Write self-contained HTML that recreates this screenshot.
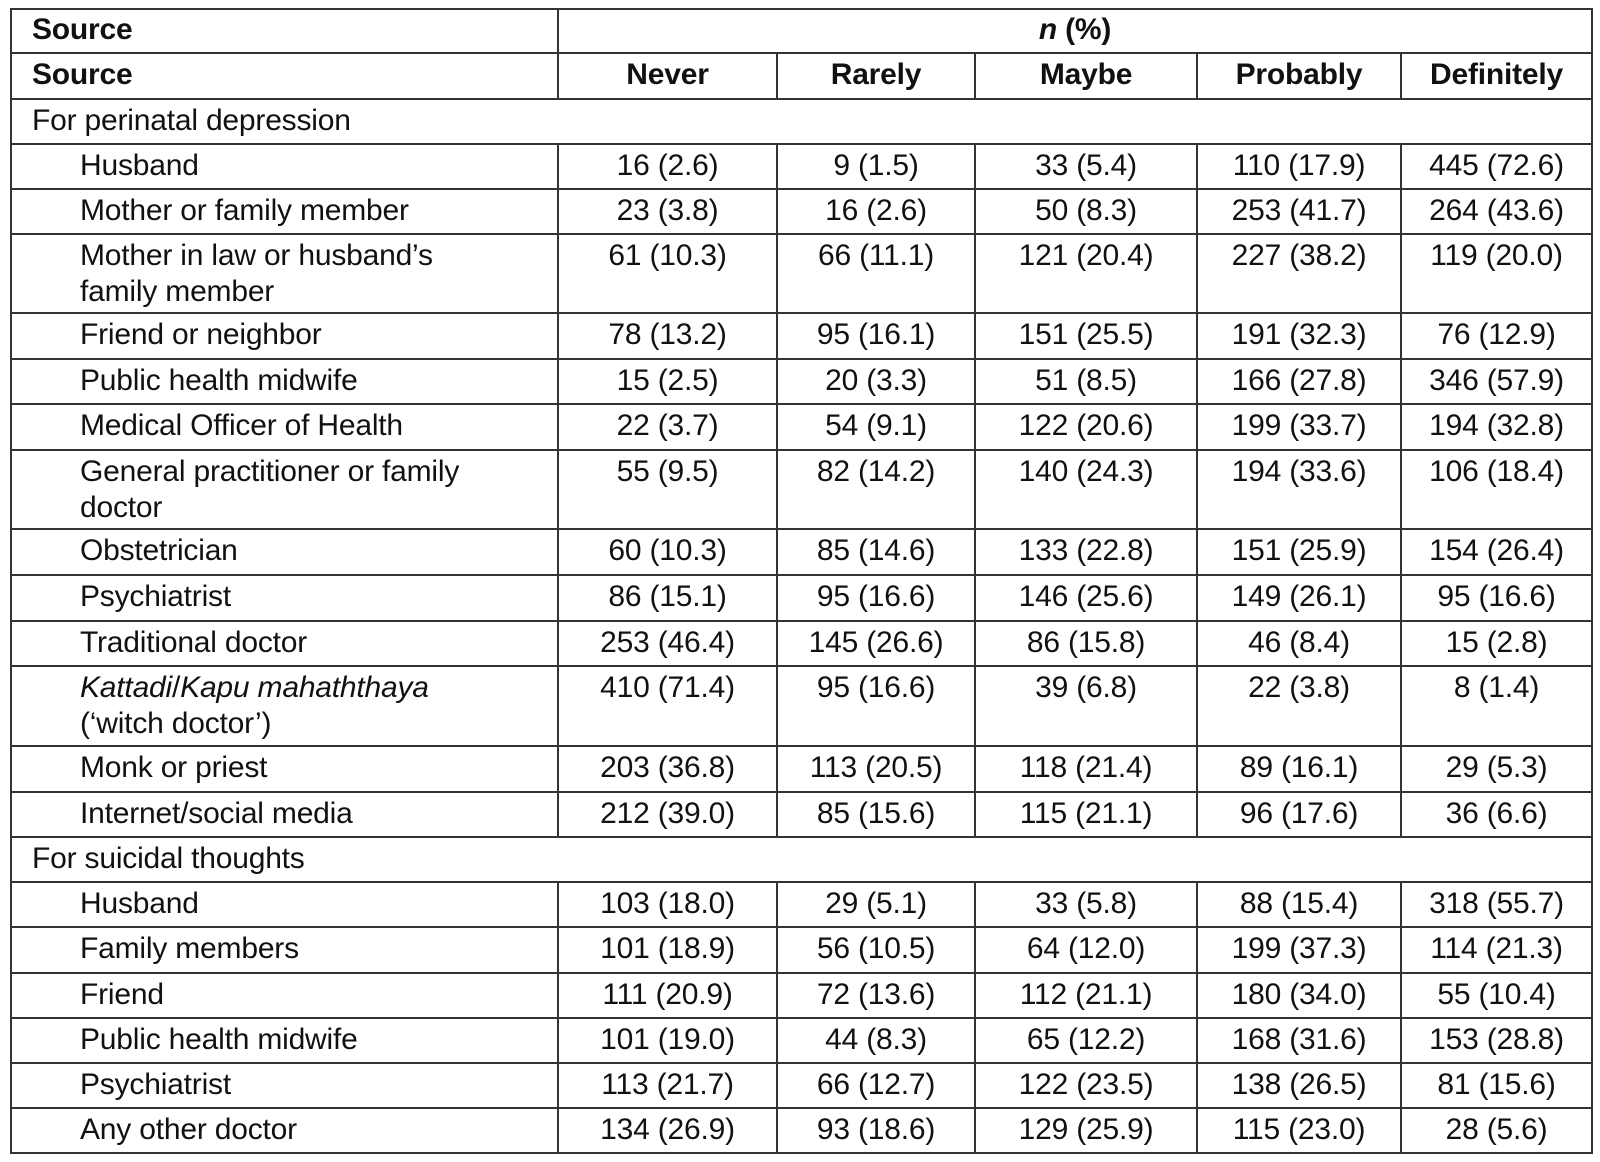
<!DOCTYPE html>
<html><head><meta charset="utf-8"><style>
html,body{margin:0;padding:0;background:#fff;width:1600px;height:1162px;overflow:hidden}
table{position:absolute;left:10px;top:8px;width:1581px;border-collapse:collapse;table-layout:fixed;font-family:"Liberation Sans",Arial,sans-serif;font-size:30px;color:#111;letter-spacing:-0.2px}
td{border:2px solid #333;padding:3px 0 0 0;vertical-align:top;line-height:36px;overflow:hidden;white-space:nowrap}
td.n{text-align:center}
td.l{padding-left:68px}
td.c{padding-left:20px}
.h td{font-weight:bold}
</style></head><body>
<table>
<colgroup><col style="width:547px"><col style="width:219px"><col style="width:198px"><col style="width:222px"><col style="width:204px"><col style="width:191px"></colgroup>
<tr class="h" style="height:44px"><td class="c" style="padding-top:2px">Source</td><td colspan="5" class="n" style="padding-top:2px"><i>n</i> (%)</td></tr>
<tr class="h" style="height:46px"><td class="c">Source</td><td class="n">Never</td><td class="n">Rarely</td><td class="n">Maybe</td><td class="n">Probably</td><td class="n">Definitely</td></tr>
<tr style="height:45px"><td colspan="6" class="c">For perinatal depression</td></tr>
<tr style="height:45px"><td class="l">Husband</td><td class="n">16 (2.6)</td><td class="n">9 (1.5)</td><td class="n">33 (5.4)</td><td class="n">110 (17.9)</td><td class="n">445 (72.6)</td></tr>
<tr style="height:45px"><td class="l">Mother or family member</td><td class="n">23 (3.8)</td><td class="n">16 (2.6)</td><td class="n">50 (8.3)</td><td class="n">253 (41.7)</td><td class="n">264 (43.6)</td></tr>
<tr style="height:79px"><td class="l">Mother in law or husband’s<br>family member</td><td class="n">61 (10.3)</td><td class="n">66 (11.1)</td><td class="n">121 (20.4)</td><td class="n">227 (38.2)</td><td class="n">119 (20.0)</td></tr>
<tr style="height:46px"><td class="l">Friend or neighbor</td><td class="n">78 (13.2)</td><td class="n">95 (16.1)</td><td class="n">151 (25.5)</td><td class="n">191 (32.3)</td><td class="n">76 (12.9)</td></tr>
<tr style="height:45px"><td class="l">Public health midwife</td><td class="n">15 (2.5)</td><td class="n">20 (3.3)</td><td class="n">51 (8.5)</td><td class="n">166 (27.8)</td><td class="n">346 (57.9)</td></tr>
<tr style="height:46px"><td class="l">Medical Officer of Health</td><td class="n">22 (3.7)</td><td class="n">54 (9.1)</td><td class="n">122 (20.6)</td><td class="n">199 (33.7)</td><td class="n">194 (32.8)</td></tr>
<tr style="height:79px"><td class="l">General practitioner or family<br>doctor</td><td class="n">55 (9.5)</td><td class="n">82 (14.2)</td><td class="n">140 (24.3)</td><td class="n">194 (33.6)</td><td class="n">106 (18.4)</td></tr>
<tr style="height:46px"><td class="l">Obstetrician</td><td class="n">60 (10.3)</td><td class="n">85 (14.6)</td><td class="n">133 (22.8)</td><td class="n">151 (25.9)</td><td class="n">154 (26.4)</td></tr>
<tr style="height:46px"><td class="l">Psychiatrist</td><td class="n">86 (15.1)</td><td class="n">95 (16.6)</td><td class="n">146 (25.6)</td><td class="n">149 (26.1)</td><td class="n">95 (16.6)</td></tr>
<tr style="height:45px"><td class="l">Traditional doctor</td><td class="n">253 (46.4)</td><td class="n">145 (26.6)</td><td class="n">86 (15.8)</td><td class="n">46 (8.4)</td><td class="n">15 (2.8)</td></tr>
<tr style="height:80px"><td class="l"><i>Kattadi</i>/<i>Kapu mahaththaya</i><br>(‘witch doctor’)</td><td class="n">410 (71.4)</td><td class="n">95 (16.6)</td><td class="n">39 (6.8)</td><td class="n">22 (3.8)</td><td class="n">8 (1.4)</td></tr>
<tr style="height:46px"><td class="l">Monk or priest</td><td class="n">203 (36.8)</td><td class="n">113 (20.5)</td><td class="n">118 (21.4)</td><td class="n">89 (16.1)</td><td class="n">29 (5.3)</td></tr>
<tr style="height:45px"><td class="l">Internet/social media</td><td class="n">212 (39.0)</td><td class="n">85 (15.6)</td><td class="n">115 (21.1)</td><td class="n">96 (17.6)</td><td class="n">36 (6.6)</td></tr>
<tr style="height:45px"><td colspan="6" class="c">For suicidal thoughts</td></tr>
<tr style="height:45px"><td class="l">Husband</td><td class="n">103 (18.0)</td><td class="n">29 (5.1)</td><td class="n">33 (5.8)</td><td class="n">88 (15.4)</td><td class="n">318 (55.7)</td></tr>
<tr style="height:46px"><td class="l">Family members</td><td class="n">101 (18.9)</td><td class="n">56 (10.5)</td><td class="n">64 (12.0)</td><td class="n">199 (37.3)</td><td class="n">114 (21.3)</td></tr>
<tr style="height:45px"><td class="l">Friend</td><td class="n">111 (20.9)</td><td class="n">72 (13.6)</td><td class="n">112 (21.1)</td><td class="n">180 (34.0)</td><td class="n">55 (10.4)</td></tr>
<tr style="height:45px"><td class="l">Public health midwife</td><td class="n">101 (19.0)</td><td class="n">44 (8.3)</td><td class="n">65 (12.2)</td><td class="n">168 (31.6)</td><td class="n">153 (28.8)</td></tr>
<tr style="height:45px"><td class="l">Psychiatrist</td><td class="n">113 (21.7)</td><td class="n">66 (12.7)</td><td class="n">122 (23.5)</td><td class="n">138 (26.5)</td><td class="n">81 (15.6)</td></tr>
<tr style="height:45px"><td class="l">Any other doctor</td><td class="n">134 (26.9)</td><td class="n">93 (18.6)</td><td class="n">129 (25.9)</td><td class="n">115 (23.0)</td><td class="n">28 (5.6)</td></tr>
</table>
</body></html>
